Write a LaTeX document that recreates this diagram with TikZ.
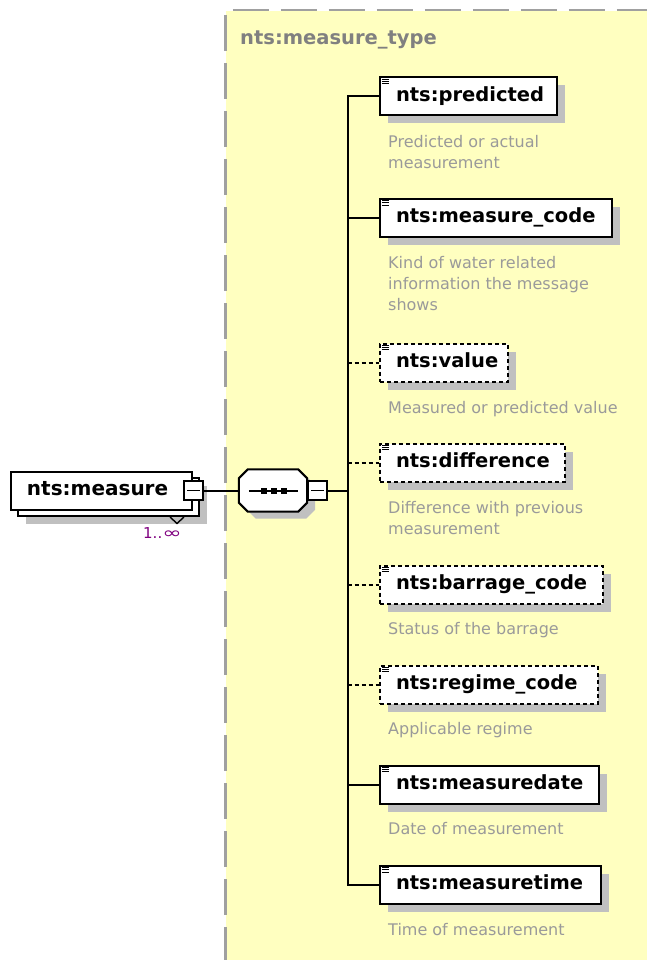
\documentclass[tikz,border=0pt]{standalone}
\usepackage{fontspec}
\usepackage{graphicx}
\setmainfont{DejaVu Sans}
\usetikzlibrary{shadows}
\definecolor{ybg}{HTML}{FFFFC0}
\definecolor{bord}{HTML}{A0A0A0}
\definecolor{shd}{HTML}{C0C0C0}
\definecolor{desccol}{HTML}{9A9A9A}
\definecolor{ttl}{HTML}{808080}
\definecolor{occ}{HTML}{800080}
\begin{document}
\begin{tikzpicture}[x=1pt,y=-1pt,
  elem/.style={draw=black, line width=2pt, fill=white, minimum height=38pt,
    inner xsep=0pt, inner ysep=0pt, text width=#1, align=left, anchor=west,
    text height=14pt, text depth=4.5pt,
    font=\bfseries\fontsize{19.5}{22}\selectfont,
    general shadow={fill=shd, shadow xshift=8pt, shadow yshift=-8pt}},
  opt/.style={dash pattern=on 4pt off 3pt},
  desctext/.style={anchor=north west, inner sep=0pt, align=left, text=desccol,
    font=\fontsize{16}{21}\selectfont},
  conn/.style={line width=2pt, draw=black},
  minusbox/.style={draw=black, line width=1.7pt, fill=white, minimum size=19.3pt, inner sep=0pt},
]
\useasboundingbox[fill=white] (0,0) rectangle (646,960);

% yellow complex type area
\fill[ybg] (226,11) rectangle (660,970);
\draw[bord, line width=2.2pt, dash pattern=on 36pt off 12pt, dash phase=40.7pt] (225.5,10) -- (660,10);
\draw[bord, line width=2.2pt, dash pattern=on 36pt off 12pt, dash phase=43pt] (225.5,10) -- (225.5,970);
\node[anchor=base west, inner sep=0pt, text=ttl, font=\bfseries\fontsize{19.5}{22}\selectfont] (title) at (240,45) {nts:measure\_type};

% left element (repeating)
\node[draw=black, line width=2pt, fill=white, minimum width=181pt, minimum height=38pt,
  general shadow={fill=shd, shadow xshift=8pt, shadow yshift=-8pt}] (measback) at (108.5,496.5) {};
\draw[black, line width=1.4pt] (170,517) -- (177,523.5) -- (184,517);
\node[draw=black, line width=2pt, fill=white, inner xsep=0pt, inner ysep=0pt, text width=181pt,
  minimum height=38pt, text height=14pt, text depth=4.5pt, align=left,
  font=\bfseries\fontsize{20}{22}\selectfont] (meas) at (101.5,490.5) {\hspace*{16pt}\mbox{nts:measure}};
\node[minusbox] (mminus) at (193.5,490.5) {};
\draw[line width=1.6pt] ([xshift=4pt]mminus.west) -- ([xshift=-4pt]mminus.east);
\node[anchor=base west, inner sep=0pt, text=occ, font=\fontsize{15}{17}\selectfont] (occur) at (143,538) {1..\scalebox{1.55}[1.05]{∞}};

% sequence compositor
\node[minimum width=68pt, minimum height=42pt, inner sep=0pt] (seq) at (273,490.5) {};
\fill[shd, transform canvas={xshift=8pt, yshift=-7pt}]
  ([xshift=9pt]seq.north west) -- ([xshift=-9pt]seq.north east) -- ([yshift=-9pt]seq.north east)
  -- ([yshift=9pt]seq.south east) -- ([xshift=-9pt]seq.south east) -- ([xshift=9pt]seq.south west)
  -- ([yshift=9pt]seq.south west) -- ([yshift=-9pt]seq.north west) -- cycle;
\draw[black, line width=2pt, fill=white]
  ([xshift=9pt]seq.north west) -- ([xshift=-9pt]seq.north east) -- ([yshift=-9pt]seq.north east)
  -- ([yshift=9pt]seq.south east) -- ([xshift=-9pt]seq.south east) -- ([xshift=9pt]seq.south west)
  -- ([yshift=9pt]seq.south west) -- ([yshift=-9pt]seq.north west) -- cycle;
\draw[line width=2pt] ([xshift=10pt]seq.west) -- ([xshift=-9pt]seq.east);
\foreach \dx in {-9,1,11}{
  \fill ([xshift=\dx pt - 3pt, yshift=-3pt]seq.center) rectangle ([xshift=\dx pt + 3pt, yshift=3pt]seq.center);
}
\node[minusbox] (sminus) at (317.5,490.5) {};
\draw[line width=1.6pt] ([xshift=4pt]sminus.west) -- ([xshift=-4pt]sminus.east);

% child elements
\node[elem=177pt] (pred) at (379,96.5) {\hspace*{16pt}\mbox{nts:predicted}};
\node[elem=232pt] (code) at (379,218) {\hspace*{16pt}\mbox{nts:measure\_code}};
\node[elem=128pt, opt] (value) at (379,362.5) {\hspace*{16pt}\mbox{nts:value}};
\node[elem=185pt, opt] (diff) at (379,462.5) {\hspace*{16pt}\mbox{nts:difference}};
\node[elem=223pt, opt] (barr) at (379,584.5) {\hspace*{16pt}\mbox{nts:barrage\_code}};
\node[elem=218pt, opt] (regime) at (379,684.5) {\hspace*{16pt}\mbox{nts:regime\_code}};
\node[elem=219pt] (mdate) at (379,784.5) {\hspace*{16pt}\mbox{nts:measuredate}};
\node[elem=221pt] (mtime) at (379,885) {\hspace*{16pt}\mbox{nts:measuretime}};

\foreach \n in {pred,code,value,diff,barr,regime,mdate,mtime}{
  \foreach \dy in {2.6,4.9,7.2}{
    \draw[line width=1pt] ([xshift=2.8pt,yshift=-\dy pt]\n.north west) -- ++(7.5,0);
  }
}

% descriptions
\node[desctext] (dpred) at (388,134.8) {Predicted or actual\\measurement};
\node[desctext] (dcode) at (388,255.8) {Kind of water related\\information the message\\shows};
\node[desctext] (dvalue) at (388,400.8) {Measured or predicted value};
\node[desctext] (ddiff) at (388,500.8) {Difference with previous\\measurement};
\node[desctext] (dbarr) at (388,621.8) {Status of the barrage};
\node[desctext] (dregime) at (388,721.8) {Applicable regime};
\node[desctext] (dmdate) at (388,821.8) {Date of measurement};
\node[desctext] (dmtime) at (388,922.8) {Time of measurement};

% connectors
\coordinate (j) at (347.5,490.5);
\draw[conn] (mminus.east) -- (seq.west);
\draw[conn] (sminus.east) -- (j);
\draw[conn] (j) |- (pred.west);
\draw[conn] (j) |- (mtime.west);
\draw[conn] (code.west -| j) -- (code.west);
\draw[conn] (mdate.west -| j) -- (mdate.west);
\draw[conn, opt] (value.west -| j) -- (value.west);
\draw[conn, opt] (diff.west -| j) -- (diff.west);
\draw[conn, opt] (barr.west -| j) -- (barr.west);
\draw[conn, opt] (regime.west -| j) -- (regime.west);
\end{tikzpicture}
\end{document}
